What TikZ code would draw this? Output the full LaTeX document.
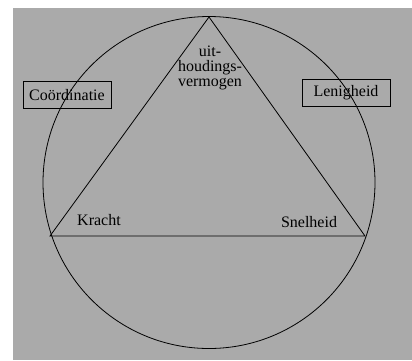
\documentclass[tikz,border=0pt]{standalone}
\usepackage{fontspec}
\setmainfont{Liberation Serif}
\definecolor{bggray}{RGB}{170,170,170}

\begin{document}
\begin{tikzpicture}[
    x=1pt, y=-1pt,
    txt/.style={font=\fontsize{16}{15}\selectfont, inner sep=0pt, align=center},
    box/.style={draw, line width=0.9pt, minimum width=88pt, minimum height=27pt,
                inner sep=0pt, font=\fontsize{16}{15}\selectfont},
    edge/.style={line width=0.8pt}
]
\useasboundingbox (0,0) rectangle (412,360);
\fill[bggray] (13,8) rectangle (412,360);

% ring and triangle
\draw[edge] (209,182.5) circle[radius=166];
\coordinate (top)   at (209,17);
\coordinate (left)  at (50,236);
\coordinate (right) at (365,236);
\draw[edge] (top) -- (left) -- (right) -- cycle;

\node[box] (coord) at (67,95)  {Coördinatie};
\node[box] (lenig) at (346,93) {Lenigheid};

\node[txt] (uith)   at (210,68)  {uit-\\houdings-\\vermogen};
\node[txt] (kracht) at (99,220)  {Kracht};
\node[txt] (snel)   at (309,222) {Snelheid};
\end{tikzpicture}
\end{document}
